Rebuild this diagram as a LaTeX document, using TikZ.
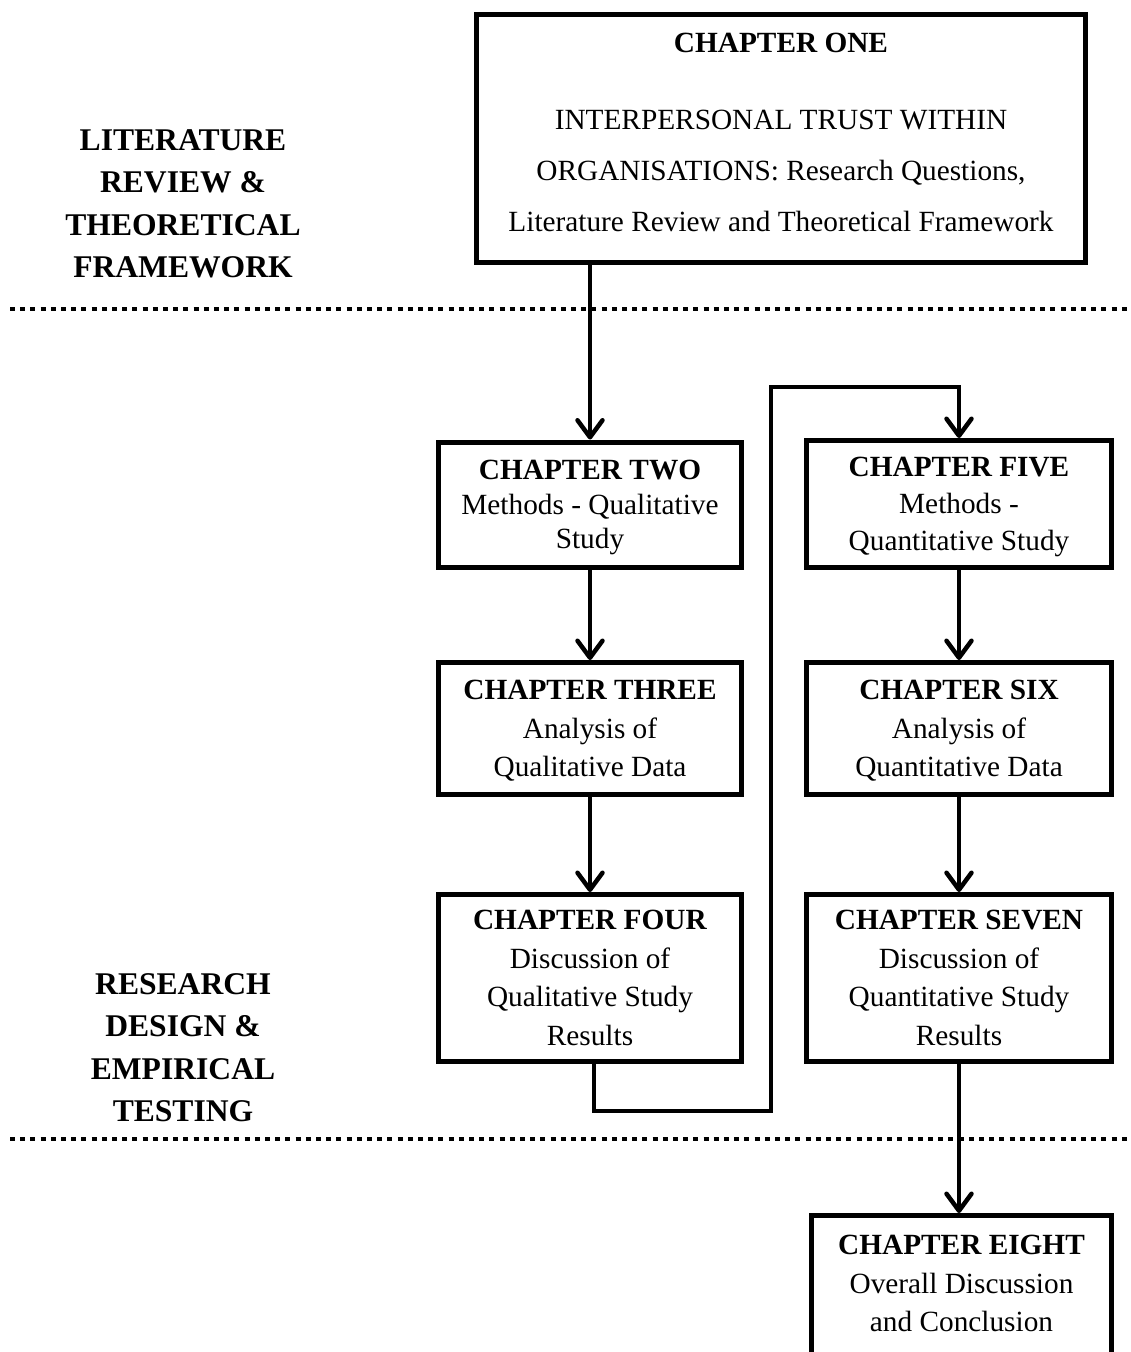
\documentclass[tikz,border=0pt]{standalone}
\usepackage{fontspec}
\setmainfont{Liberation Serif}
\usetikzlibrary{arrows.meta}
\begin{document}
\begin{tikzpicture}[x=1pt,y=-1pt,
  box/.style={draw, line width=5pt, rectangle, inner sep=0pt, align=center, text depth=0pt,
    font=\fontsize{29.3}{38.5}\selectfont},
  sidelabel/.style={align=center, inner sep=0pt, text depth=0pt,
    font=\fontsize{31.6}{42.3}\selectfont\bfseries},
  conn/.style={line width=4.5pt, line join=miter},
  arr/.style={conn, -{Straight Barb[length=17pt,width=25pt,round]}},
  sep/.style={line width=4.5pt, dash pattern=on 5pt off 5.2pt, line cap=butt}
]
\useasboundingbox (0,0) rectangle (1130,1352);
\fill[white] (0,0) rectangle (1130,1352);

% separators
\draw[sep] (10,309) -- (1127,309);
\draw[sep] (10,1139) -- (1127,1139);

% side labels
\node[sidelabel] (lit) at (183,203.5) {LITERATURE\\REVIEW \&\\THEORETICAL\\FRAMEWORK};
\node[sidelabel] (res) at (183,1047.5) {RESEARCH\\DESIGN \&\\EMPIRICAL\\TESTING};

% boxes
\node[box, minimum width=609pt, minimum height=248pt, text depth=11.5pt,
  font=\fontsize{29.3}{51}\selectfont] (c1) at (781,138.5)
  {\textbf{CHAPTER ONE}\\[26pt]INTERPERSONAL TRUST WITHIN\\ORGANISATIONS: Research Questions,\\Literature Review and Theoretical Framework};

\node[box, minimum width=303pt, minimum height=125pt,
  font=\fontsize{29.3}{34.5}\selectfont] (c2) at (590,504.5)
  {\textbf{CHAPTER TWO}\\Methods - Qualitative\\Study};
\node[box, minimum width=303pt, minimum height=132pt] (c3) at (590,728.5)
  {\textbf{CHAPTER THREE}\\Analysis of\\Qualitative Data};
\node[box, minimum width=303pt, minimum height=167pt] (c4) at (590,978)
  {\textbf{CHAPTER FOUR}\\Discussion of\\Qualitative Study\\Results};

\node[box, minimum width=305pt, minimum height=127pt,
  font=\fontsize{29.3}{37}\selectfont] (c5) at (959,504)
  {\textbf{CHAPTER FIVE}\\Methods -\\Quantitative Study};
\node[box, minimum width=305pt, minimum height=132pt] (c6) at (959,728.5)
  {\textbf{CHAPTER SIX}\\Analysis of\\Quantitative Data};
\node[box, minimum width=305pt, minimum height=167pt] (c7) at (959,978)
  {\textbf{CHAPTER SEVEN}\\Discussion of\\Quantitative Study\\Results};
\node[box, minimum width=300pt, minimum height=170pt, text depth=34pt] (c8) at (961.5,1300.5)
  {\textbf{CHAPTER EIGHT}\\Overall Discussion\\and Conclusion};

% connectors
\draw[arr] (c1.south -| c2.north) -- (c2.north);
\draw[arr] (c2.south) -- (c3.north);
\draw[arr] (c3.south) -- (c4.north);
\draw[arr] (c5.south) -- (c5.south |- c6.north);
\draw[arr] (c6.south) -- (c6.south |- c7.north);
\draw[arr] (c7.south) -- (c7.south |- c8.north);

\coordinate (k1) at (771,1111);
\coordinate (k2) at (771,387);
\draw[arr] ([xshift=4pt]c4.south) |- (k1) -- (k2) -| (c5.north);
\end{tikzpicture}
\end{document}
